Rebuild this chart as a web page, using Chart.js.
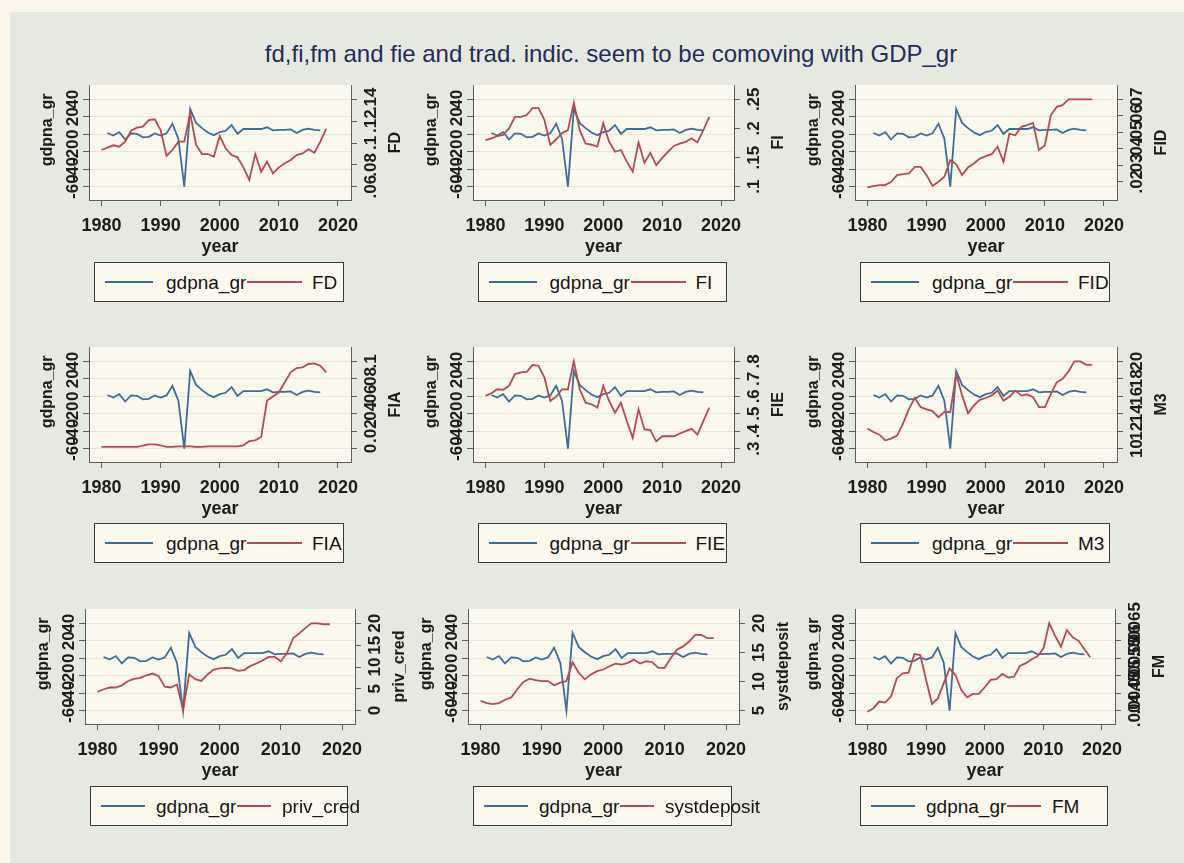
<!DOCTYPE html>
<html>
<head>
<meta charset="utf-8">
<title>fd,fi,fm and fie and trad. indic. seem to be comoving with GDP_gr</title>
<script src="https://cdn.jsdelivr.net/npm/chart.js@4.4.1/dist/chart.umd.min.js"></script>
<style>
    html, body { margin: 0; padding: 0; }
    body { width: 1184px; height: 863px; background: #fbf6e9; position: relative; overflow: hidden;
           font-family: "Liberation Sans", Arial, sans-serif; }
    #panel { position: absolute; left: 10px; top: 12px; right: 0; bottom: 0; background: #e6e9df; }
    #title { position: absolute; top: 42px; left: 0; width: 1222px; text-align: center; font-size: 24px;
             line-height: 24px; color: #1f2c5c; white-space: nowrap; }
    canvas { position: absolute; }
    .legend { position: absolute; box-sizing: border-box; border: 1px solid #3a3a3a; background: #fbf8ee; }
    .legend .key { position: absolute; top: 50%; height: 0; margin-top: -1px; border-top: 2px solid; }
    .legend .lab { position: absolute; top: 50%; transform: translateY(-50%); font-size: 19px; line-height: 1;
                   color: #151515; white-space: nowrap; }
</style>
</head>
<body>
<div id="panel"></div>
<div id="title">fd,fi,fm and fie and trad. indic. seem to be comoving with GDP_gr</div>

<script>
// years of the indicator series, gdpna_gr runs 1981-2017
var years = [1980, 1981, 1982, 1983, 1984, 1985, 1986, 1987, 1988, 1989,
    1990, 1991, 1992, 1993, 1994, 1995, 1996, 1997, 1998, 1999,
    2000, 2001, 2002, 2003, 2004, 2005, 2006, 2007, 2008, 2009,
    2010, 2011, 2012, 2013, 2014, 2015, 2016, 2017, 2018];
var gdpYears = [1981, 1982, 1983, 1984, 1985, 1986, 1987, 1988, 1989,
    1990, 1991, 1992, 1993, 1994, 1995, 1996, 1997, 1998, 1999,
    2000, 2001, 2002, 2003, 2004, 2005, 2006, 2007, 2008, 2009,
    2010, 2011, 2012, 2013, 2014, 2015, 2016, 2017];

var gdpna_gr = [1.5, -1.5, 2.5, -6, 1, 0.5, -3.5, -3, 1,
    -1.5, 1, 12, -5, -60, 29, 13, 7, 2, -1,
    2.5, 4, 10.5, 0.5, 6, 6, 6, 6, 8, 4.5,
    5, 5, 5.5, 1.5, 5, 6.5, 5, 4.5];

var FD = [.0936, .0957, .0979, .0966, .1012, .1113, .114, .115, .121, .1217,
    .1119, .0881, .0936, .1012, .1012, .1272, .0982, .0899, .0899, .0875,
    .1064, .0951, .089, .0869, .0777, .0661, .0899, .0737, .0829, .0722,
    .0777, .0814, .0844, .089, .0905, .0942, .0911, .101, .113];
var FI = [.180, .183, .187, .189, .200, .220, .220, .223, .235, .235,
    .215, .172, .181, .192, .197, .244, .197, .174, .172, .169,
    .209, .177, .160, .163, .143, .126, .176, .141, .158, .137,
    .149, .160, .170, .174, .177, .183, .176, .197, .220];
var FID = [.0166, .0174, .018, .018, .020, .024, .0246, .025, .029, .029,
    .024, .0174, .020, .023, .0331, .0307, .024, .0287, .0311, .0341,
    .0355, .0367, .0412, .0321, .0492, .0482, .0533, .0543, .0557, .0392,
    .0422, .0603, .0654, .0664, .070, .070, .070, .070, .070];
var FIA = [.002, .002, .002, .002, .002, .002, .002, .0035, .005, .005,
    .0038, .002, .002, .0027, .0027, .0027, .002, .002, .0027, .0027,
    .0027, .0027, .0027, .0027, .0038, .0087, .0095, .0133, .0551, .0597,
    .0646, .076, .0875, .0924, .0932, .097, .0977, .095, .0875];
var FIE = [.602, .617, .640, .637, .660, .727, .737, .740, .779, .775,
    .708, .573, .598, .640, .640, .800, .640, .563, .554, .535,
    .660, .573, .506, .563, .458, .362, .525, .410, .406, .342,
    .371, .371, .371, .387, .400, .413, .381, .458, .535];
var M3 = [12.3, 11.9, 11.6, 10.95, 11.15, 11.5, 12.85, 14.55, 15.8, 14.75,
    14.5, 14.3, 13.6, 14.2, 14.2, 18.55, 16.1, 14.05, 14.95, 15.6,
    15.8, 16.1, 16.65, 15.5, 15.95, 16.65, 16.1, 16.2, 15.9, 14.75,
    14.75, 16.25, 17.6, 18.0, 18.85, 20.0, 20.0, 19.6, 19.6];
var priv_cred = [4.3, 4.9, 5.3, 5.3, 5.8, 6.8, 7.3, 7.5, 8.1, 8.5,
    7.9, 5.5, 5.3, 6.0, 0.2, 8.3, 7.2, 6.8, 8.3, 9.4,
    9.7, 9.8, 9.7, 9.1, 9.3, 10.2, 10.8, 11.5, 12.3, 12.3,
    11.3, 13.2, 16.6, 17.7, 18.9, 20.0, 20.0, 19.8, 19.8];
var systdeposit = [6.7, 6.3, 6.13, 6.3, 6.87, 7.26, 8.68, 9.92, 10.49, 10.26,
    10.09, 10.09, 9.36, 9.81, 10.09, 13.32, 11.51, 10.38, 11.23, 11.79,
    12.07, 12.64, 13.09, 12.92, 13.21, 13.77, 13.09, 13.49, 13.32, 12.36,
    12.36, 14.05, 15.47, 16.04, 16.88, 18.02, 18.02, 17.45, 17.45];
var FM = [.00397, .00407, .00426, .00423, .0044, .00493, .00507, .00509, .00562, .00559,
    .00488, .00419, .00435, .00478, .00521, .00502, .00459, .00438, .00448, .00448,
    .00467, .00488, .0049, .00505, .00495, .00497, .00528, .00536, .00547, .00556,
    .00578, .0065, .00614, .00583, .00631, .0061, .006, .00576, .00553];

// tick labels
var xTicks = [1980, 1990, 2000, 2010, 2020];
var gdpTicks = [-60, -40, -20, 0, 20, 40];
var fdTicks = [.06, .08, .1, .12, .14];
var fiTicks = [.1, .15, .2, .25];
var fidTicks = [.02, .03, .04, .05, .06, .07];
var fiaTicks = [0, .02, .04, .06, .08, .1];
var fieTicks = [.3, .4, .5, .6, .7, .8];
var m3Ticks = [10, 12, 14, 16, 18, 20];
var privTicks = [0, 5, 10, 15, 20];
var depTicks = [5, 10, 15, 20];
var fmTicks = [.004, .0045, .005, .0055, .006, .0065];

// name, values, right ticks, value at the gdp -60 line, value at the gdp 40 line
var indicators = [
    ['FD', FD, fdTicks, .06, .14],
    ['FI', FI, fiTicks, .1, .25],
    ['FID', FID, fidTicks, .017, .07],
    ['FIA', FIA, fiaTicks, 0, .1],
    ['FIE', FIE, fieTicks, .3, .8],
    ['M3', M3, m3Ticks, 10, 20],
    ['priv_cred', priv_cred, privTicks, 0, 20],
    ['systdeposit', systdeposit, depTicks, 5, 20],
    ['FM', FM, fmTicks, .004, .0065]
];

// plot regions on the page: left, top, right, bottom
var areas = [
    [89, 85, 351, 200], [472.5, 85, 733.5, 200], [855, 85, 1117, 200],
    [89, 346.5, 351, 461], [472.5, 346.5, 733.5, 461], [855, 346.5, 1117, 461],
    [85, 609, 355, 723.5], [468, 609, 739, 723.5], [855, 609, 1115, 723.5]
];

var BLUE = '#3f6c97';
var RED = '#b54a50';
var AXIS = '#5c5c5c';
var GRID = '#e9e6da';
var INK = '#1c1c1c';
var FONT = '"Liberation Sans", Arial, sans-serif';

function stataNum(v) {
    return String(v).replace(/^0\./, '.').replace(/^-0\./, '-.');
}

function rotText(ctx, text, x, y) {
    ctx.save();
    ctx.translate(x, y);
    ctx.rotate(-Math.PI / 2);
    ctx.fillText(text, 0, 0);
    ctx.restore();
}

var stataAxes = {
    id: 'stataAxes',
    beforeDraw: function (chart) {
        var a = chart.chartArea, ctx = chart.ctx;
        ctx.save();
        ctx.fillStyle = '#fbf8ee';
        ctx.fillRect(a.left, a.top, a.right - a.left, a.bottom - a.top);
        ctx.restore();
    },
    afterDraw: function (chart, args, opts) {
        var a = chart.chartArea, ctx = chart.ctx;
        var yl = chart.scales.y, yr = chart.scales.y1;
        ctx.save();
        ctx.fillStyle = INK;
        ctx.textAlign = 'center';
        ctx.textBaseline = 'middle';
        ctx.font = 'bold 17px ' + FONT;
        gdpTicks.forEach(function (v) {
            rotText(ctx, stataNum(v), a.left - 16, yl.getPixelForValue(v));
        });
        opts.ticks.forEach(function (v) {
            rotText(ctx, stataNum(v), a.right + 20, yr.getPixelForValue(v));
        });
        ctx.font = 'bold 16px ' + FONT;
        rotText(ctx, 'gdpna_gr', a.left - 41, yl.getPixelForValue(5));
        rotText(ctx, opts.name, a.right + 45, (a.top + a.bottom) / 2);
        ctx.restore();
    }
};

document.addEventListener("DOMContentLoaded", function () {
    Chart.defaults.font.family = FONT;

    indicators.forEach(function (ind, i) {
        var area = areas[i];
        var cl = area[0], ct = area[1], cr = area[2], cb = area[3];
        var w = cr - cl, h = cb - ct;

        var canvas = document.createElement('canvas');
        canvas.width = Math.round(w + 120);
        canvas.height = Math.round(h + 72);
        canvas.style.left = (cl - 60) + 'px';
        canvas.style.top = (ct - 10) + 'px';
        document.body.appendChild(canvas);

        // plot region margins as in the Stata graph
        var ppy = (w - 25.5) / 40;
        var ppu = (h - 27.6);
        var lo = ind[3], hi = ind[4];

        new Chart(canvas, {
            type: 'line',
            data: {
                datasets: [
                    {
                        label: 'gdpna_gr',
                        data: gdpYears.map(function (y, k) { return { x: y, y: gdpna_gr[k] }; }),
                        yAxisID: 'y',
                        borderColor: BLUE,
                        borderWidth: 1.8,
                        pointRadius: 0,
                        order: 1
                    },
                    {
                        label: ind[0],
                        data: years.map(function (y, k) { return { x: y, y: ind[1][k] }; }),
                        yAxisID: 'y1',
                        borderColor: RED,
                        borderWidth: 1.8,
                        pointRadius: 0,
                        order: 0
                    }
                ]
            },
            options: {
                responsive: false,
                animation: false,
                layout: { padding: { top: 10, left: 0, right: 0, bottom: 0 } },
                plugins: {
                    legend: { display: false },
                    tooltip: { enabled: false },
                    stataAxes: { ticks: ind[2], name: ind[0] }
                },
                scales: {
                    x: {
                        type: 'linear',
                        position: 'bottom',
                        min: 1980 - 12.5 / ppy,
                        max: 2020 + 13 / ppy,
                        afterBuildTicks: function (s) { s.ticks = xTicks.map(function (v) { return { value: v }; }); },
                        afterFit: function (s) { s.height = 62; },
                        grid: { drawOnChartArea: false, tickLength: 6, tickColor: AXIS },
                        border: { color: AXIS },
                        ticks: {
                            color: INK, font: { size: 18, weight: 'bold' }, padding: 9, autoSkip: false, maxRotation: 0,
                            callback: function (v) { return String(v); }
                        },
                        title: {
                            display: true, text: 'year', color: INK, font: { size: 18, weight: 'bold' },
                            padding: { top: 0, bottom: 4 }
                        }
                    },
                    y: {
                        position: 'left',
                        min: -60 - 100 * 13.3 / ppu,
                        max: 40 + 100 * 14.3 / ppu,
                        afterBuildTicks: function (s) { s.ticks = gdpTicks.map(function (v) { return { value: v }; }); },
                        afterFit: function (s) { s.width = 60; },
                        grid: { color: GRID, tickLength: 6, tickColor: AXIS },
                        border: { color: AXIS },
                        ticks: { display: false }
                    },
                    y1: {
                        position: 'right',
                        min: lo - (hi - lo) * 13.3 / ppu,
                        max: hi + (hi - lo) * 14.3 / ppu,
                        afterBuildTicks: function (s) { s.ticks = ind[2].map(function (v) { return { value: v }; }); },
                        afterFit: function (s) { s.width = 60; },
                        grid: { drawOnChartArea: false, tickLength: 6, tickColor: AXIS },
                        border: { color: AXIS },
                        ticks: { display: false }
                    }
                }
            },
            plugins: [stataAxes]
        });

        // legend box under each graph
        var row3 = i >= 6;
        var lg = document.createElement('div');
        lg.className = 'legend';
        lg.style.left = (cl + 5) + 'px';
        lg.style.top = (cb + 62) + 'px';
        lg.style.width = (w - 12) + 'px';
        lg.style.height = '40px';
        var k1 = row3 ? 44 : 48, t1 = row3 ? 65 : 71, k2e = row3 ? 180 : 207, t2 = row3 ? 191 : 217;
        lg.innerHTML =
            '<span class="key" style="left:10px;width:' + k1 + 'px;border-color:' + BLUE + '"></span>' +
            '<span class="lab" style="left:' + t1 + 'px">gdpna_gr</span>' +
            '<span class="key" style="left:' + (t1 + 81) + 'px;width:' + (k2e - t1 - 81) + 'px;border-color:' + RED + '"></span>' +
            '<span class="lab" style="left:' + t2 + 'px">' + ind[0] + '</span>';
        document.body.appendChild(lg);
    });
});
</script>
</body>
</html>
